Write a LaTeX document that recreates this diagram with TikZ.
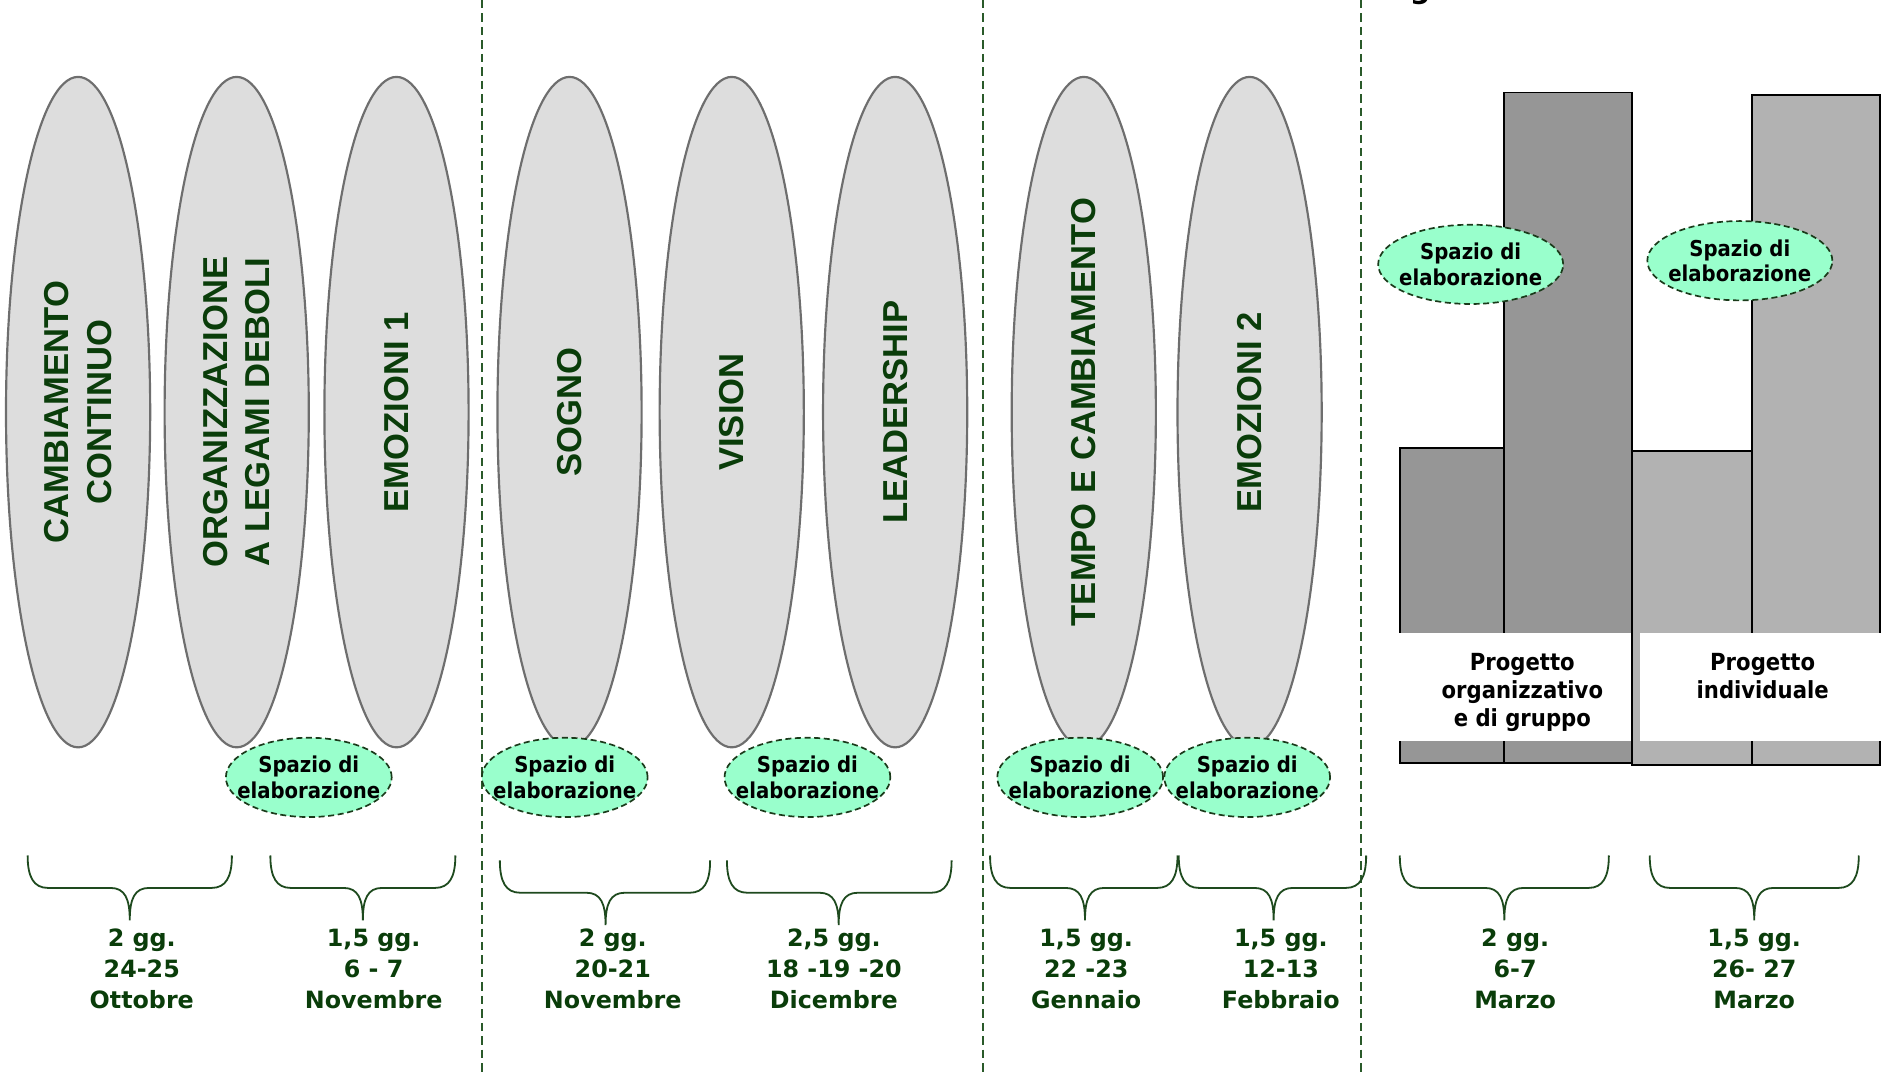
\documentclass[tikz,border=0pt]{standalone}
\usepackage{fontspec}
\usetikzlibrary{shapes.geometric}
\newfontfamily\arialf{Liberation Sans}
\newfontfamily\verdf{DejaVu Sans}
\newfontfamily\condf{DejaVu Sans Condensed}
\definecolor{tgreen}{HTML}{0A3D0A}
\definecolor{brcol}{HTML}{1E4A1E}
\definecolor{sepcol}{HTML}{2A5A2A}
\definecolor{ellfill}{HTML}{DDDDDD}
\definecolor{ellline}{HTML}{6E6E6E}
\definecolor{mint}{HTML}{99FFCC}
\definecolor{spzline}{HTML}{1A3A1A}
\definecolor{barA}{HTML}{969696}
\definecolor{barB}{HTML}{B2B2B2}
\newcommand\mybrace[6]{%
  \draw[brc] (#1,#4) .. controls (#1,#4+18) and (#1+5,#5) .. (#1+17,#5)
    -- (#3-16,#5) .. controls (#3-4,#5) and (#3,#5+9) .. (#3,#6)
    .. controls (#3,#5+9) and (#3+4,#5) .. (#3+16,#5)
    -- (#2-17,#5) .. controls (#2-5,#5) and (#2,#4+18) .. (#2,#4);}
\begin{document}
\begin{tikzpicture}[x=0.5pt,y=-0.5pt,
  bigell/.style={ellipse, draw=ellline, fill=ellfill, line width=0.9pt,
    minimum width=279pt, minimum height=60pt, inner sep=0pt, rotate=90,
    align=center, text=tgreen, font=\arialf\bfseries\fontsize{14.4}{17.6}\selectfont},
  spz/.style={ellipse, draw=spzline, fill=mint, line width=0.7pt,
    dash pattern=on 2.5pt off 1.5pt, minimum width=69pt, minimum height=33pt, inner sep=0pt},
  spzw/.style={spz, minimum width=77pt},
  spztxt/.style={inner sep=0pt, align=center, text=black,
    font=\condf\bfseries\fontsize{9.1}{10.5}\selectfont},
  lab/.style={anchor=north, inner sep=0pt, align=center, text=tgreen,
    font=\verdf\bfseries\fontsize{9.9}{12.8}\selectfont},
  ptxt/.style={anchor=north, inner sep=0pt, align=center, text=black,
    font=\condf\bfseries\fontsize{9.8}{11.8}\selectfont},
  brc/.style={draw=brcol, line width=0.75pt},
  sepline/.style={draw=sepcol, line width=0.8pt, dash pattern=on 3.5pt off 2.1pt},
  barstyA/.style={fill=barA, draw=black, line width=0.8pt},
  barstyB/.style={fill=barB, draw=black, line width=0.8pt}]
\useasboundingbox (0,0) rectangle (1568,893);
\clip (0,0) rectangle (1568,893);

% separators
\draw[sepline] (401,0) -- (401,893);
\draw[sepline] (818,0) -- (818,893);
\draw[sepline] (1133,0) -- (1133,893);

% cut-off title glyph
\node[font=\verdf\bfseries\fontsize{12}{12}\selectfont, anchor=base, inner sep=0pt] (gtop) at (1182,-1.5) {g};

% module ellipses
\node[bigell] (e1) at (65,343) {CAMBIAMENTO\\CONTINUO};
\node[bigell] (e2) at (197,343) {ORGANIZZAZIONE\\A LEGAMI DEBOLI};
\node[bigell] (e3) at (330,343) {EMOZIONI 1};
\node[bigell] (e4) at (474,343) {SOGNO};
\node[bigell] (e5) at (609,343) {VISION};
\node[bigell] (e6) at (745,343) {LEADERSHIP};
\node[bigell] (e7) at (902,343) {TEMPO E CAMBIAMENTO};
\node[bigell] (e8) at (1040,343) {EMOZIONI 2};

% bars
\draw[barstyA] (1165,373) rectangle (1252,635);
\draw[barstyA] (1252,77) rectangle (1358,635);
\fill[white] (1162,527) rectangle (1358.4,617);
\draw[barstyB] (1358,375) rectangle (1458,637);
\draw[barstyB] (1458,79) rectangle (1565,637);
\fill[white] (1365,527) rectangle (1568,617);
\node[ptxt] (p1) at (1267,543) {Progetto\\organizzativo\\e di gruppo};
\node[ptxt] (p2) at (1467,543) {Progetto\\individuale};

% elaboration spaces
\node[spz] (s1) at (257,647) {};
\node[spz] (s2) at (470,647) {};
\node[spz] (s3) at (672,647) {};
\node[spz] (s4) at (899,647) {};
\node[spz] (s5) at (1038,647) {};
\node[spzw] (s6) at (1224,220) {};
\node[spzw] (s7) at (1448,217) {};
\foreach \s in {s1,s2,s3,s4,s5,s6,s7}
  \node[spztxt] (\s t) at (\s.center) {Spazio di\\elaborazione};

% braces
\mybrace{23}{193}{108}{712}{739}{766}
\mybrace{225}{379}{302}{712}{739}{766}
\mybrace{416}{591}{504}{716}{743}{770}
\mybrace{605}{792}{698}{716}{743}{770}
\mybrace{824}{980}{903}{712}{739}{766}
\mybrace{981}{1137}{1060}{712}{739}{766}
\mybrace{1165}{1339}{1252}{712}{739}{766}
\mybrace{1373}{1547}{1460}{712}{739}{766}

% date labels
\node[lab] (l1) at (118,773) {2 gg.\\24-25\\Ottobre};
\node[lab] (l2) at (311,773) {1,5 gg.\\6 - 7\\Novembre};
\node[lab] (l3) at (510,773) {2 gg.\\20-21\\Novembre};
\node[lab] (l4) at (694,773) {2,5 gg.\\18 -19 -20\\Dicembre};
\node[lab] (l5) at (904,773) {1,5 gg.\\22 -23\\Gennaio};
\node[lab] (l6) at (1066,773) {1,5 gg.\\12-13\\Febbraio};
\node[lab] (l7) at (1261,773) {2 gg.\\6-7\\Marzo};
\node[lab] (l8) at (1460,773) {1,5 gg.\\26- 27\\Marzo};
\end{tikzpicture}
\end{document}
